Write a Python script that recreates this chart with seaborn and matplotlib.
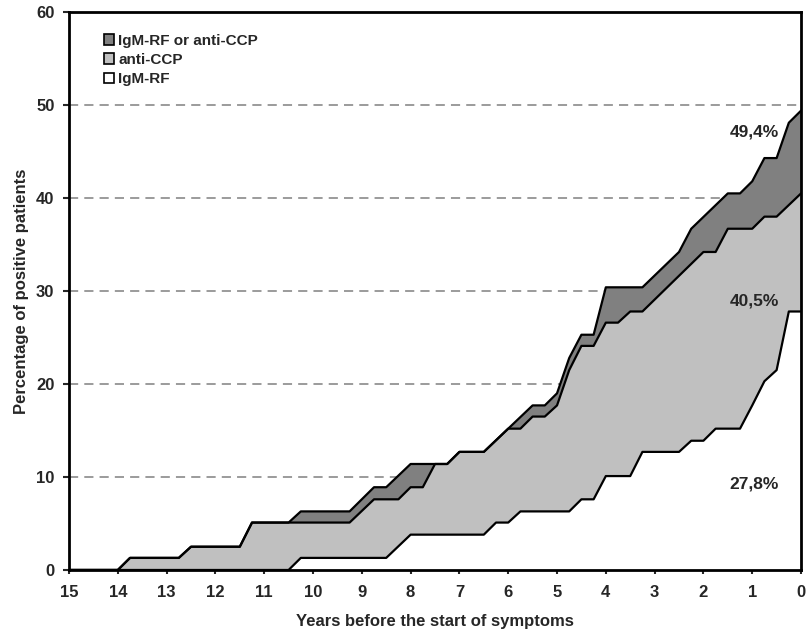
import matplotlib
matplotlib.use("Agg")
import matplotlib.pyplot as plt
from matplotlib.patches import Patch
import seaborn as sns

# break points of the cumulative curves (years before symptoms, % positive)
years_any = [15, 14, 13.75, 12.75, 12.5, 11.5, 11.25, 10.5, 10.25, 9.25, 8.75, 8.5, 8.0,
             7.25, 7.0, 6.5, 6.0, 5.5, 5.25, 5.0, 4.75, 4.5, 4.25, 4.0, 3.25, 2.5,
             2.25, 1.5, 1.25, 1.0, 0.75, 0.5, 0.25, 0]
pct_any = [0, 0, 1.3, 1.3, 2.5, 2.5, 5.1, 5.1, 6.3, 6.3, 8.9, 8.9, 11.4,
           11.4, 12.7, 12.7, 15.2, 17.7, 17.7, 19.0, 22.8, 25.3, 25.3, 30.4, 30.4, 34.2,
           36.7, 40.5, 40.5, 41.8, 44.3, 44.3, 48.1, 49.4]

years_ccp = [15, 14, 13.75, 12.75, 12.5, 11.5, 11.25, 9.25, 8.75, 8.25, 8.0, 7.75, 7.5,
             7.25, 7.0, 6.5, 6.0, 5.75, 5.5, 5.25, 5.0, 4.75, 4.5, 4.25, 4.0, 3.75,
             3.5, 3.25, 2.0, 1.75, 1.5, 1.0, 0.75, 0.5, 0]
pct_ccp = [0, 0, 1.3, 1.3, 2.5, 2.5, 5.1, 5.1, 7.6, 7.6, 8.9, 8.9, 11.4,
           11.4, 12.7, 12.7, 15.2, 15.2, 16.5, 16.5, 17.7, 21.5, 24.1, 24.1, 26.6, 26.6,
           27.8, 27.8, 34.2, 34.2, 36.7, 36.7, 38.0, 38.0, 40.5]

years_rf = [15, 10.5, 10.25, 8.5, 8.0, 6.5, 6.25, 6.0, 5.75, 4.75, 4.5, 4.25, 4.0,
            3.5, 3.25, 2.5, 2.25, 2.0, 1.75, 1.25, 1.0, 0.75, 0.5, 0.25, 0]
pct_rf = [0, 0, 1.3, 1.3, 3.8, 3.8, 5.1, 5.1, 6.3, 6.3, 7.6, 7.6, 10.1,
          10.1, 12.7, 12.7, 13.9, 13.9, 15.2, 15.2, 17.7, 20.3, 21.5, 27.8, 27.8]

series_labels = ["IgM-RF or anti-CCP", "anti-CCP", "IgM-RF"]
series_colors = ["#808080", "#C0C0C0", "#FFFFFF"]
end_labels = ["49,4%", "40,5%", "27,8%"]
end_label_y = [47.1, 28.9, 9.3]

sns.set_style("white")
plt.rcParams["font.family"] = ["Liberation Sans", "DejaVu Sans"]
plt.rcParams["font.weight"] = "bold"

fig = plt.figure(figsize=(8.07, 6.36), dpi=100)
ax = fig.add_axes([0.0855, 0.1038, 0.9071, 0.8772])

curves = [(years_any, pct_any), (years_ccp, pct_ccp), (years_rf, pct_rf)]
for (xs, ys), col in zip(curves, series_colors):
    ax.fill_between(xs, 0, ys, facecolor=col, edgecolor="none", zorder=2)
    sns.lineplot(x=xs, y=ys, ax=ax, color="black", lw=1.6, sort=False,
                 estimator=None, zorder=3)

for y in range(10, 60, 10):
    ax.axhline(y, color="#808080", lw=1.1, ls=(0, (6, 4)), zorder=1)

for txt, ty in zip(end_labels, end_label_y):
    ax.text(0.96, ty, txt, ha="center", va="center", fontsize=12.5,
            fontweight="bold", zorder=4)

ax.set_xlim(15, 0)
ax.set_ylim(0, 60)
ax.set_xticks(range(15, -1, -1))
ax.set_yticks(range(0, 61, 10))
ax.tick_params(axis="x", direction="out", length=3, width=1.5,
               labelsize=12, pad=8, bottom=True)
ax.tick_params(axis="y", direction="out", length=4.5, width=1.5,
               labelsize=12, pad=6, left=True)
for lab in ax.get_xticklabels() + ax.get_yticklabels():
    lab.set_fontweight("bold")
for sp in ax.spines.values():
    sp.set_visible(True)
    sp.set_linewidth(2)
    sp.set_color("black")
    sp.set_zorder(5)

ax.set_xlabel("Years before the start of symptoms", fontsize=12,
              fontweight="bold", labelpad=10)
ax.set_ylabel("Percentage of positive patients", fontsize=12,
              fontweight="bold", labelpad=5)

handles = [Patch(facecolor=c, edgecolor="black", lw=1.2) for c in series_colors]
ax.legend(handles, series_labels, loc="upper left", bbox_to_anchor=(0.035, 0.978),
          frameon=False, handlelength=0.7, handleheight=0.7,
          handletextpad=0.25, labelspacing=0.35, borderaxespad=0.2,
          prop={"weight": "bold", "size": 11})

fig.savefig("out.png", dpi=100, facecolor="white")
plt.close(fig)
